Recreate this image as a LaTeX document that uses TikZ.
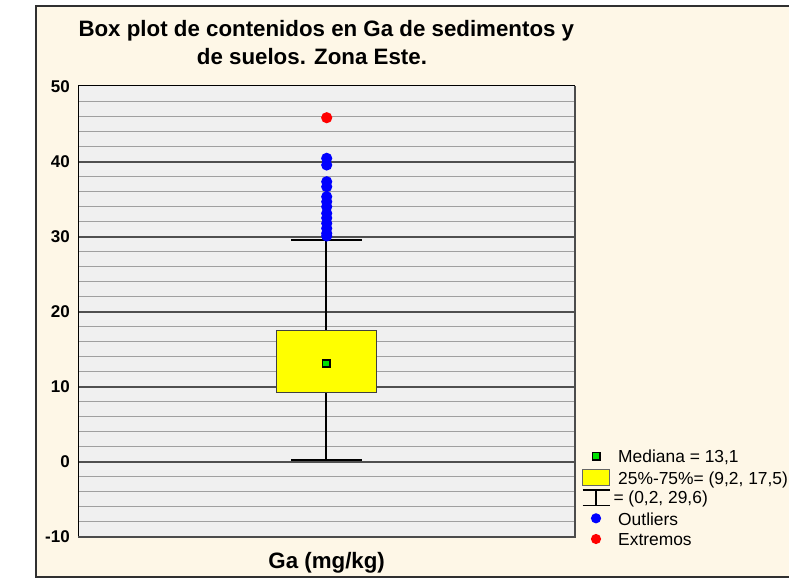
\documentclass[tikz,border=0pt]{standalone}
\usepackage{fontspec}
\setmainfont{Liberation Sans}
\definecolor{cream}{HTML}{FEF7E7}
\definecolor{plotbg}{HTML}{F0F0F0}
\definecolor{minorc}{HTML}{A0A0A0}
\definecolor{majorc}{HTML}{505050}
\definecolor{framec}{HTML}{303030}
\definecolor{ptblue}{HTML}{0000FF}
\definecolor{ptred}{HTML}{FF0000}
\definecolor{medgreen}{HTML}{00E000}
\definecolor{boxyellow}{HTML}{FFFF00}
\tikzset{
  titletxt/.style={anchor=base west,inner sep=0pt,font=\fontsize{22.3}{26}\selectfont\bfseries},
  ylab/.style={anchor=east,inner sep=0pt,font=\fontsize{17}{20}\selectfont\bfseries},
  xlab/.style={anchor=base,inner sep=0pt,font=\fontsize{22.3}{26}\selectfont\bfseries},
  legtxt/.style={anchor=base west,inner sep=0pt,font=\fontsize{17.4}{20}\selectfont},
  minorgrid/.style={draw=minorc,line width=1.5pt},
  majorgrid/.style={draw=majorc,line width=1.7pt},
  whisk/.style={draw=black,line width=2.4pt},
  outl/.style={fill=ptblue},
  extr/.style={fill=ptred},
}
\begin{document}
\begin{tikzpicture}[x=1pt,y=-1pt]
\useasboundingbox (0,0) rectangle (789,582);
\fill[white] (0,0) rectangle (789,582);
% outer frame
\fill[cream] (36,6) rectangle (792,577);
\draw[framec,line width=2pt] (792,6) -- (36,6) -- (36,577) -- (792,577);
% title
\node[titletxt] (t1) at (78.3,36.7) {Box plot de contenidos en Ga de sedimentos y};
\node[titletxt] (t2) at (196.7,64.7) {de suelos. Zona Este.};
% plot area
\fill[plotbg] (78.3,85.7) rectangle (575,536.7);
\foreach \v in {-8,-6,...,48} \draw[minorgrid] (78.3,{461.7-7.5*\v}) -- (575,{461.7-7.5*\v});
\foreach \v in {0,10,...,40} \draw[majorgrid] (78.3,{461.7-7.5*\v}) -- (575,{461.7-7.5*\v});
\draw[black,line width=1.2pt] (78.3,536.7) -- (78.3,85.7) -- (575,85.7);
\draw[gray!60!black,line width=2pt] (575,85.7) -- (575,536.7) -- (78.3,536.7);
\foreach \v in {-10,0,...,50} \node[ylab] (yl\v) at (70,{461.7-7.5*\v}) {\v};
% whiskers
\coordinate (wtop) at (326,239.7);
\coordinate (wbot) at (326,460.2);
\draw[whisk] (wtop) -- (wbot);
\draw[whisk] (291,239.7) -- (361.7,239.7);
\draw[whisk] (291,460.2) -- (361.7,460.2);
% box
\draw[fill=boxyellow,draw=black!75,line width=1pt] (276.7,330.5) rectangle (376,392.7);
\draw[fill=medgreen,draw=black,line width=1.6pt] (322.3,359.7) rectangle (329.7,367.1);
% outliers
\foreach \yy in {236,233.3,228.3,223.3,218,213.3,206.7,201.7,196.7,186.7,181.7,165,158.3}
  \fill[outl] (326.7,\yy) circle (5.6);
\fill[extr] (326.7,117.7) circle (5.6);
% x label
\node[xlab] (xl) at (326.7,568.3) {Ga (mg/kg)};
% legend
\draw[fill=medgreen,draw=black,line width=1.5pt] (592.3,452.3) rectangle (599.9,459.9);
\node[legtxt] (l1) at (618,462.3) {Mediana = 13,1};
\draw[fill=boxyellow,draw=black!60,line width=1pt] (582.5,469.5) rectangle (609.5,485);
\node[legtxt] (l2) at (618,484) {25\%-75\%= (9,2, 17,5)};
\draw[black,line width=1.8pt] (582.5,490) -- (609.5,490) (596,490) -- (596,505.5) (582.5,505.5) -- (609.5,505.5);
\node[legtxt] (l3) at (613.3,503.3) {= (0,2, 29,6)};
\fill[outl] (596,518.3) circle (5.1);
\node[legtxt] (l4) at (618,525) {Outliers};
\fill[extr] (596,539) circle (5.1);
\node[legtxt] (l5) at (618,545) {Extremos};
\end{tikzpicture}
\end{document}
